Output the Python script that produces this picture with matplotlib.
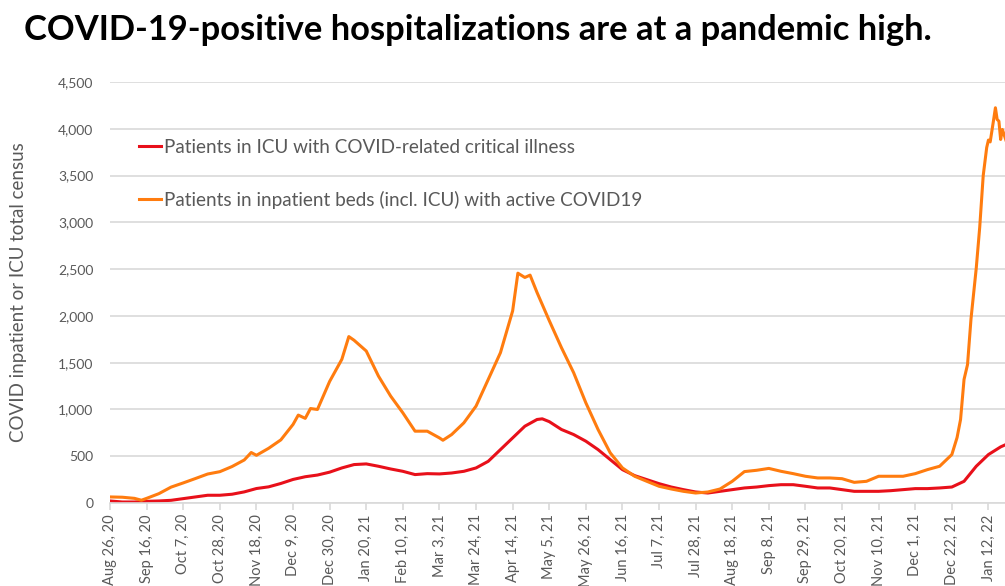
"""
COVID-19 hospital census chart
"""

import matplotlib.pyplot as plt
import matplotlib.dates as mdates
import pandas as pd

# ICU patients with COVID-related critical illness
icu_dates = ['2020-08-26', '2020-09-02', '2020-09-09', '2020-09-16', '2020-09-23', '2020-09-30',
             '2020-10-07', '2020-10-14', '2020-10-21', '2020-10-28', '2020-11-04', '2020-11-11',
             '2020-11-18', '2020-11-25', '2020-12-02', '2020-12-09', '2020-12-16', '2020-12-23',
             '2020-12-30', '2021-01-06', '2021-01-13', '2021-01-20', '2021-01-27', '2021-02-03',
             '2021-02-10', '2021-02-17', '2021-02-24', '2021-03-03', '2021-03-10', '2021-03-17',
             '2021-03-24', '2021-03-31', '2021-04-07', '2021-04-14', '2021-04-21', '2021-04-28',
             '2021-05-01', '2021-05-05', '2021-05-12', '2021-05-19', '2021-05-26', '2021-06-02',
             '2021-06-09', '2021-06-16', '2021-06-23', '2021-06-30', '2021-07-07', '2021-07-14',
             '2021-07-21', '2021-07-28', '2021-08-04', '2021-08-11', '2021-08-18', '2021-08-25',
             '2021-09-01', '2021-09-08', '2021-09-15', '2021-09-22', '2021-09-29', '2021-10-06',
             '2021-10-13', '2021-10-20', '2021-10-27', '2021-11-03', '2021-11-10', '2021-11-17',
             '2021-11-24', '2021-12-01', '2021-12-08', '2021-12-15', '2021-12-22', '2021-12-29',
             '2022-01-05', '2022-01-12', '2022-01-19', '2022-01-22']
icu = [22, 11, 11, 18, 22, 29,
       47, 65, 83, 83, 94, 119,
       155, 173, 209, 252, 281, 299,
       330, 375, 411, 418, 393, 364,
       339, 304, 314, 311, 321, 339,
       375, 446, 571, 696, 821, 893,
       900, 870, 786, 732, 661, 571,
       464, 357, 293, 250, 207, 171,
       143, 118, 107, 125, 143, 161,
       171, 186, 196, 196, 179, 161,
       161, 143, 125, 125, 125, 132,
       143, 154, 154, 161, 171, 232,
       393, 518, 600, 625]

# inpatient beds (incl. ICU) with active COVID19
inpatient_dates = ['2020-08-26', '2020-09-02', '2020-09-09', '2020-09-13', '2020-09-16', '2020-09-23',
                   '2020-09-30', '2020-10-07', '2020-10-14', '2020-10-21', '2020-10-28', '2020-11-04',
                   '2020-11-11', '2020-11-15', '2020-11-18', '2020-11-25', '2020-12-02', '2020-12-09',
                   '2020-12-12', '2020-12-16', '2020-12-19', '2020-12-23', '2020-12-30', '2021-01-06',
                   '2021-01-10', '2021-01-13', '2021-01-20', '2021-01-27', '2021-02-03', '2021-02-10',
                   '2021-02-17', '2021-02-24', '2021-03-03', '2021-03-05', '2021-03-10', '2021-03-17',
                   '2021-03-24', '2021-03-31', '2021-04-07', '2021-04-14', '2021-04-17', '2021-04-21',
                   '2021-04-24', '2021-04-28', '2021-05-05', '2021-05-12', '2021-05-19', '2021-05-26',
                   '2021-06-02', '2021-06-09', '2021-06-16', '2021-06-23', '2021-06-30', '2021-07-07',
                   '2021-07-14', '2021-07-21', '2021-07-28', '2021-08-04', '2021-08-11', '2021-08-18',
                   '2021-08-25', '2021-09-01', '2021-09-08', '2021-09-15', '2021-09-22', '2021-09-29',
                   '2021-10-06', '2021-10-13', '2021-10-20', '2021-10-27', '2021-11-03', '2021-11-10',
                   '2021-11-17', '2021-11-24', '2021-12-01', '2021-12-08', '2021-12-15', '2021-12-22',
                   '2021-12-25', '2021-12-27', '2021-12-29', '2021-12-31', '2022-01-02', '2022-01-05',
                   '2022-01-07', '2022-01-09', '2022-01-11', '2022-01-12', '2022-01-13', '2022-01-15',
                   '2022-01-16', '2022-01-17', '2022-01-18', '2022-01-19', '2022-01-20', '2022-01-22']
inpatient = [65, 62, 50, 30, 50, 100,
             170, 215, 262, 310, 335, 390,
             460, 540, 510, 585, 675, 840,
             940, 905, 1010, 1000, 1300, 1536,
             1779, 1740, 1625, 1357, 1143, 964,
             768, 768, 696, 671, 732, 857,
             1036, 1321, 1607, 2054, 2457, 2411,
             2436, 2250, 1950, 1661, 1393, 1071,
             786, 536, 375, 286, 232, 179,
             150, 125, 107, 118, 150, 232,
             336, 350, 370, 339, 314, 286,
             268, 268, 260, 221, 232, 286,
             286, 286, 314, 357, 393, 518,
             700, 893, 1321, 1480, 1970, 2510,
             2950, 3500, 3800, 3880, 3860, 4100,
             4225, 4100, 4082, 3886, 3993, 3880]

tick_dates = pd.date_range('2020-08-26', '2022-01-12', freq='21D')

plt.rcParams['font.family'] = ['Lato', 'DejaVu Sans']

fig = plt.figure(figsize=(10.05, 5.86), dpi=100)
ax = fig.add_axes([0.1095, 0.1416, 0.8905, 0.7184])

ax.plot(pd.to_datetime(icu_dates), icu, color='#e8101a', lw=2.2,
        label='Patients in ICU with COVID-related critical illness')
ax.plot(pd.to_datetime(inpatient_dates), inpatient, color='#ff7c0f', lw=2.2,
        label='Patients in inpatient beds (incl. ICU) with active COVID19')

ax.set_ylim(0, 4500)
ax.set_yticks(range(0, 4501, 500))
ax.set_yticklabels([f'{v:,}' for v in range(0, 4501, 500)])
ax.set_xlim(pd.Timestamp('2020-08-26'), pd.Timestamp('2022-01-21 12:00'))
ax.set_xticks(tick_dates)
ax.set_xticklabels([d.strftime('%b ') + str(d.day) + d.strftime(', %y') for d in tick_dates],
                   rotation=90)

ax.grid(axis='y', color='#d9d9d9', lw=1.2)
ax.set_axisbelow(True)
for s in ['top', 'right', 'left']:
    ax.spines[s].set_visible(False)
ax.spines['bottom'].set_color('#d9d9d9')
ax.spines['bottom'].set_linewidth(1.2)
ax.tick_params(axis='y', length=0, pad=12, labelsize=10, labelcolor='#595959')
ax.tick_params(axis='x', length=5, color='#d9d9d9', width=1.2, labelsize=10.5,
               labelcolor='#595959', pad=3)

ax.set_ylabel('COVID inpatient or ICU total census', fontsize=13.5, color='#595959', labelpad=22)

ax.legend(loc='upper left', bbox_to_anchor=(0.013, 0.905), frameon=False, fontsize=13.6,
          labelcolor='#595959', handlelength=1.2, handletextpad=0.15, labelspacing=1.85)

fig.text(0.024, 0.948, 'COVID-19-positive hospitalizations are at a pandemic high.',
         fontsize=24.8, fontweight='bold', va='center', ha='left', color='black')

fig.savefig('out.png', dpi=100, facecolor='white')
